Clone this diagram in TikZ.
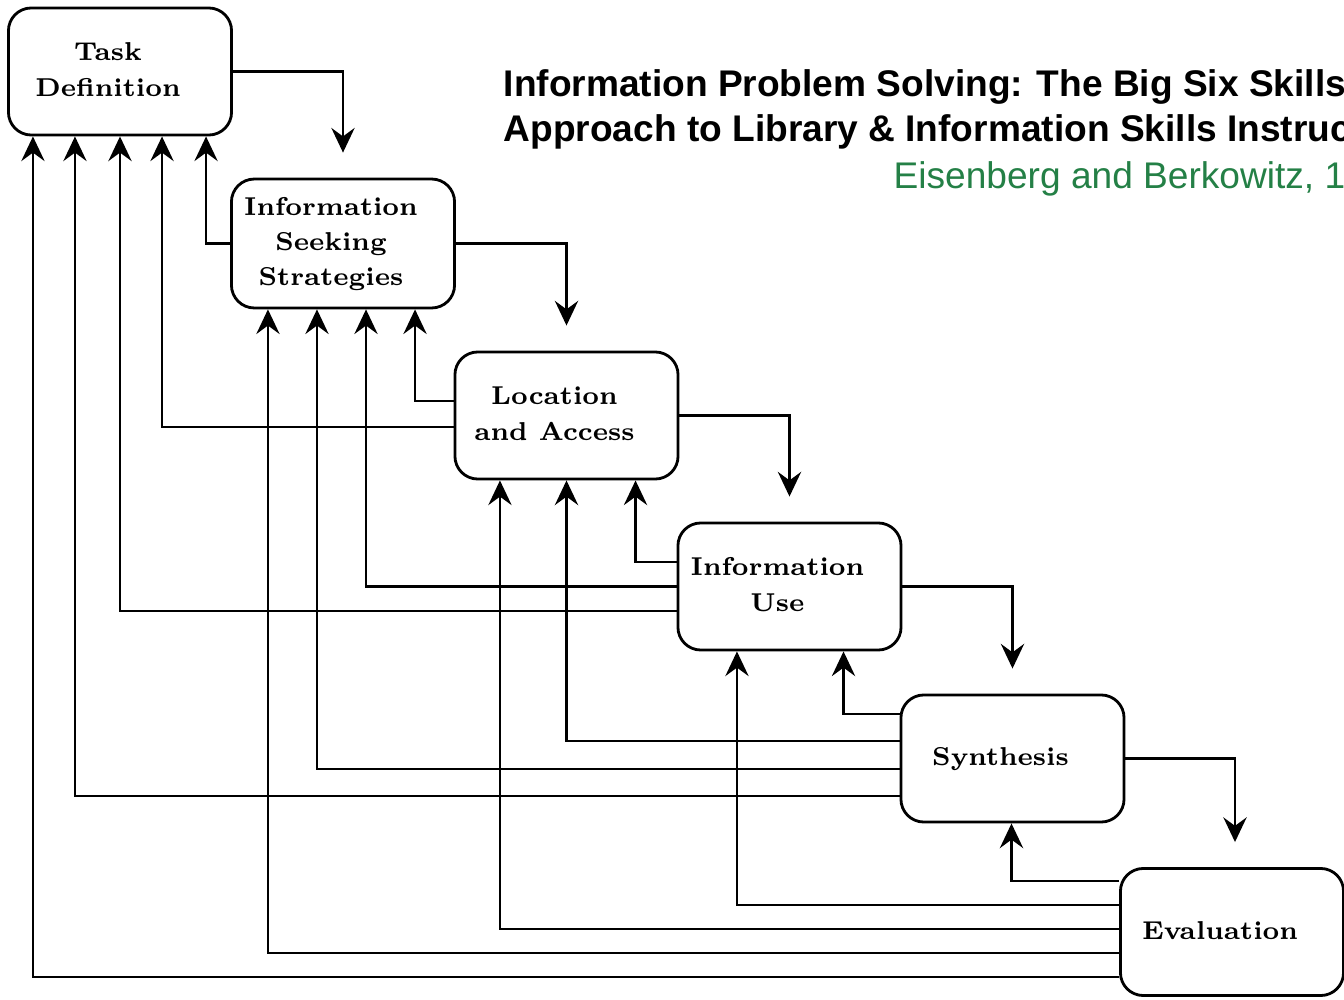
\documentclass[tikz,border=0pt]{standalone}
\usepackage{fontspec}
\usetikzlibrary{arrows.meta}
\newfontfamily\headfont{Liberation Sans}
\definecolor{citegreen}{RGB}{36,128,70}
% box text sits a little left of the box centre
\newcommand\skilltext[1]{\begin{tabular}{@{}c@{}}#1\end{tabular}\kern0.24cm}

\begin{document}
\begin{tikzpicture}[x=0.01cm, y=-0.01cm,
  skill/.style={draw=black, line width=0.8pt, rounded corners=6.5pt, fill=white,
    minimum width=2.23cm, minimum height=1.27cm,
    font=\bfseries\fontsize{7.35}{10}\selectfont},
  flow/.style={line width=0.8pt, -{Stealth[length=7pt, width=6.6pt, inset=2.4pt]}},
  head/.style={anchor=base west, inner sep=0pt, font=\headfont\bfseries\fontsize{10.55}{12}\selectfont}]

\useasboundingbox (0,0) rectangle (1344,1000);

\begin{scope}
\clip (0,0) rectangle (1344,1000);
\node[head] (title1) at (503,97) {Information Problem Solving: The Big Six Skills};
\node[head] (title2) at (503,142) {Approach to Library \& Information Skills Instruc};
\node[head, font=\headfont\fontsize{10.55}{12}\selectfont, text=citegreen] (cite) at (893,189) {Eisenberg and Berkowitz, 1};

\node[skill] (task) at (120,71.5) {\skilltext{Task\\Definition}};
\node[skill] (seek) at (343,243.5) {\skilltext{Information\\Seeking\\Strategies}};
\node[skill] (loc) at (566.5,415.5) {\skilltext{Location\\and Access}};
\node[skill] (use) at (789.5,586.5) {\skilltext{Information\\Use}};
\node[skill] (syn) at (1012.5,758.5) {\skilltext{Synthesis}};
\node[skill] (eval) at (1232,932) {\skilltext{Evaluation}};
\end{scope}

% forward steps
\draw[flow] (task.east) -| ([yshift=0.25cm]seek.north);
\draw[flow] (seek.east) -| ([yshift=0.25cm]loc.north);
\draw[flow] (loc.east) -| ([yshift=0.25cm]use.north);
\draw[flow] (use.east) -| ([yshift=0.25cm]syn.north);
\draw[flow] (syn.east) -| ([xshift=0.03cm, yshift=0.25cm]eval.north);

% going back
\draw[flow] (seek.west) -| ([xshift=0.86cm]task.south);

\draw[flow] ([yshift=0.145cm]loc.west) -| ([xshift=0.72cm]seek.south);
\draw[flow] ([yshift=-0.115cm]loc.west) -| ([xshift=0.42cm]task.south);

\draw[flow] ([yshift=0.245cm]use.west) -| ([xshift=0.69cm]loc.south);
\draw[flow] (use.west) -| ([xshift=0.23cm]seek.south);
\draw[flow] ([yshift=-0.245cm]use.west) -| (task.south);

\draw[flow] ([yshift=0.445cm]syn.west) -| ([xshift=0.54cm]use.south);
\draw[flow] ([yshift=0.175cm]syn.west) -| (loc.south);
\draw[flow] ([yshift=-0.105cm]syn.west) -| ([xshift=-0.26cm]seek.south);
\draw[flow] ([yshift=-0.375cm]syn.west) -| ([xshift=-0.45cm]task.south);

\draw[flow] ([yshift=0.51cm]eval.west) -| ([xshift=-0.01cm]syn.south);
\draw[flow] ([yshift=0.27cm]eval.west) -| ([xshift=-0.525cm]use.south);
\draw[flow] ([yshift=0.03cm]eval.west) -| ([xshift=-0.665cm]loc.south);
\draw[flow] ([yshift=-0.21cm]eval.west) -| ([xshift=-0.75cm]seek.south);
\draw[flow] ([yshift=-0.45cm]eval.west) -| ([xshift=-0.87cm]task.south);

\end{tikzpicture}
\end{document}
